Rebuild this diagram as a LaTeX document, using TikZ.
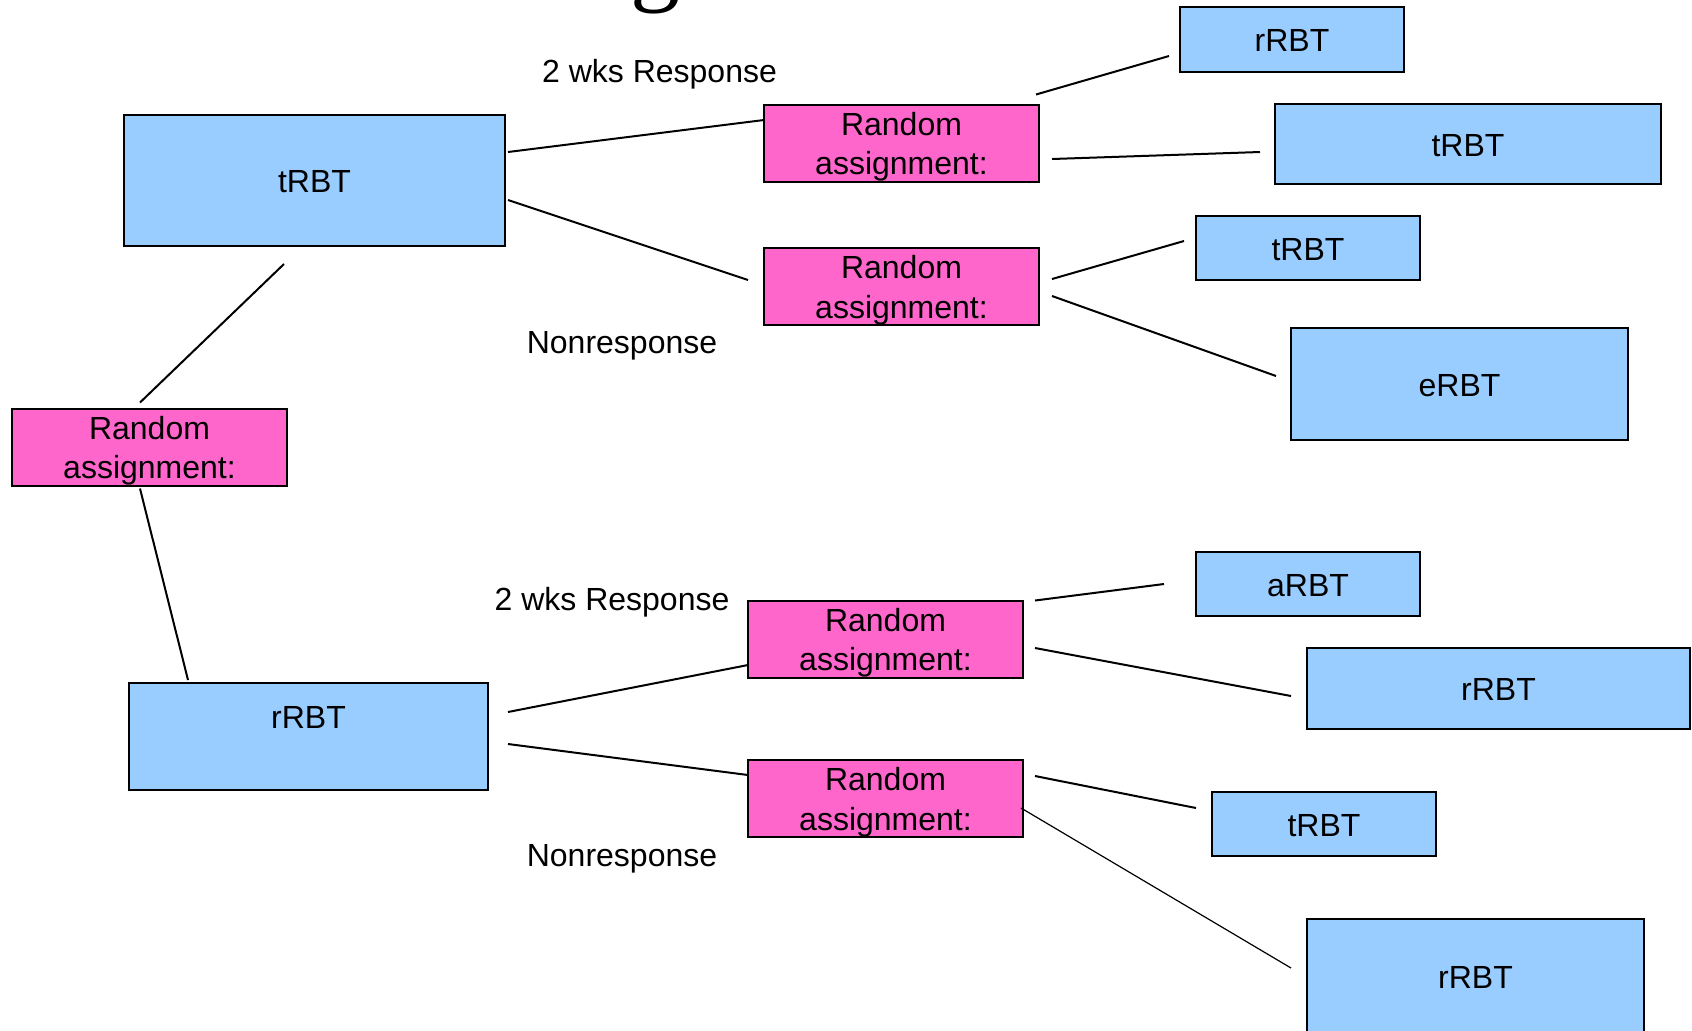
\documentclass[tikz,border=0pt]{standalone}
\usepackage{fontspec}
\setmainfont{Liberation Sans}
\newfontfamily\titlefont{Liberation Serif}
\definecolor{boxblue}{HTML}{99CCFF}
\definecolor{boxpink}{HTML}{FF66CC}
\begin{document}
\begin{tikzpicture}[x=0.5pt,y=-0.5pt,
  every node/.style={font=\fontsize{16}{19.7}\selectfont},
  bluebox/.style={draw=black,line width=1pt,fill=boxblue,inner sep=0pt,outer sep=0pt,
     text height=12.4pt,text depth=0pt},
  pinkbox/.style={draw=black,line width=1pt,fill=boxpink,inner sep=0pt,outer sep=0pt,
     minimum width=137.5pt,minimum height=38.5pt},
  ratext/.style={inner sep=0pt,outer sep=0pt,align=center},
  conn/.style={draw=black,line width=1pt},
  thinconn/.style={draw=black,line width=0.6pt},
  lbl/.style={anchor=base,inner sep=0pt}]
\clip (0,0) rectangle (1692,1030);
\fill[white] (0,0) rectangle (1692,1030);

% fragment of the cut-off title
\node[anchor=base west,inner sep=0pt,outer sep=0pt,font=\titlefont\fontsize{50}{50}\selectfont] (ttl) at (630,-8) {g};

% left column
\node[bluebox,minimum width=190.5pt,minimum height=65.5pt] (tA) at (314.5,180.5) {tRBT};
\node[pinkbox] (raL) at (149.5,447) {};
\node[ratext] (raLt) at ([yshift=-1.9pt]raL.center) {Random\\assignment:};
\node[bluebox,minimum width=179.5pt,minimum height=53.5pt] (rL) at (308.5,736.5) {};
\node[inner sep=0pt] (rLt) at (308.5,717) {rRBT};

% middle column
\node[pinkbox] (ra1) at (901.5,143) {};
\node[ratext] (ra1t) at ([yshift=-1.9pt]ra1.center) {Random\\assignment:};
\node[pinkbox] (ra2) at (901.5,286.5) {};
\node[ratext] (ra2t) at ([yshift=-1.9pt]ra2.center) {Random\\assignment:};
\node[pinkbox] (ra3) at (885.5,639) {};
\node[ratext] (ra3t) at ([yshift=-1.9pt]ra3.center) {Random\\assignment:};
\node[pinkbox] (ra4) at (885.5,798.5) {};
\node[ratext] (ra4t) at ([yshift=-1.9pt]ra4.center) {Random\\assignment:};

% right column
\node[bluebox,minimum width=112pt,minimum height=32.5pt] (b1) at (1292,39.5) {rRBT};
\node[bluebox,minimum width=193pt,minimum height=40pt] (b2) at (1468,144) {tRBT};
\node[bluebox,minimum width=112pt,minimum height=32pt] (b3) at (1308,248) {tRBT};
\node[bluebox,minimum width=168.5pt,minimum height=56pt] (b4) at (1459.5,384) {eRBT};
\node[bluebox,minimum width=112pt,minimum height=32pt] (b5) at (1308,584) {aRBT};
\node[bluebox,minimum width=191.5pt,minimum height=40.5pt] (b6) at (1498.5,688.5) {rRBT};
\node[bluebox,minimum width=112pt,minimum height=32pt] (b7) at (1324,824) {tRBT};
\node[bluebox,minimum width=168.5pt,minimum height=57pt] (b8) at (1475.5,976) {rRBT};

% branch labels
\node[lbl] (l1) at (659.5,82) {2 wks Response};
\node[lbl] (l2) at (622,353.5) {Nonresponse};
\node[lbl] (l3) at (612,610) {2 wks Response};
\node[lbl] (l4) at (622,866) {Nonresponse};

% connectors
\draw[conn] ([shift={(-30.5,18)}]tA.south) -- ([shift={(-9.5,-6)}]raL.north);
\draw[conn] ([shift={(-9.5,3)}]raL.south) -- ([shift={(-120.5,-3)}]rL.north);
\draw[conn] ([shift={(3,-28.5)}]tA.east) -- ([shift={(0,-23)}]ra1.west);
\draw[conn] ([shift={(3,19.5)}]tA.east) -- ([shift={(-16,-6.5)}]ra2.west);
\draw[conn] ([shift={(-3,-10)}]ra1.north east) -- ([shift={(-11,16.5)}]b1.west);
\draw[conn] ([shift={(13,16)}]ra1.east) -- ([shift={(-15,8)}]b2.west);
\draw[conn] ([shift={(13,-7.5)}]ra2.east) -- ([shift={(-12,-7)}]b3.west);
\draw[conn] ([shift={(13,9.5)}]ra2.east) -- ([shift={(-15,-8)}]b4.west);
\draw[conn] ([shift={(20,-24.5)}]rL.east) -- ([shift={(0,26)}]ra3.west);
\draw[conn] ([shift={(20,7.5)}]rL.east) -- ([shift={(0,-23.5)}]ra4.west);
\draw[conn] ([shift={(12,0)}]ra3.north east) -- ([shift={(-32,0)}]b5.west);
\draw[conn] ([shift={(12,9)}]ra3.east) -- ([shift={(-16,7.5)}]b6.west);
\draw[conn] ([shift={(12,-22.5)}]ra4.east) -- ([shift={(-16,-16)}]b7.west);
\draw[thinconn] ([shift={(-2,9.5)}]ra4.east) -- ([shift={(-16,-8)}]b8.west);
\end{tikzpicture}
\end{document}
